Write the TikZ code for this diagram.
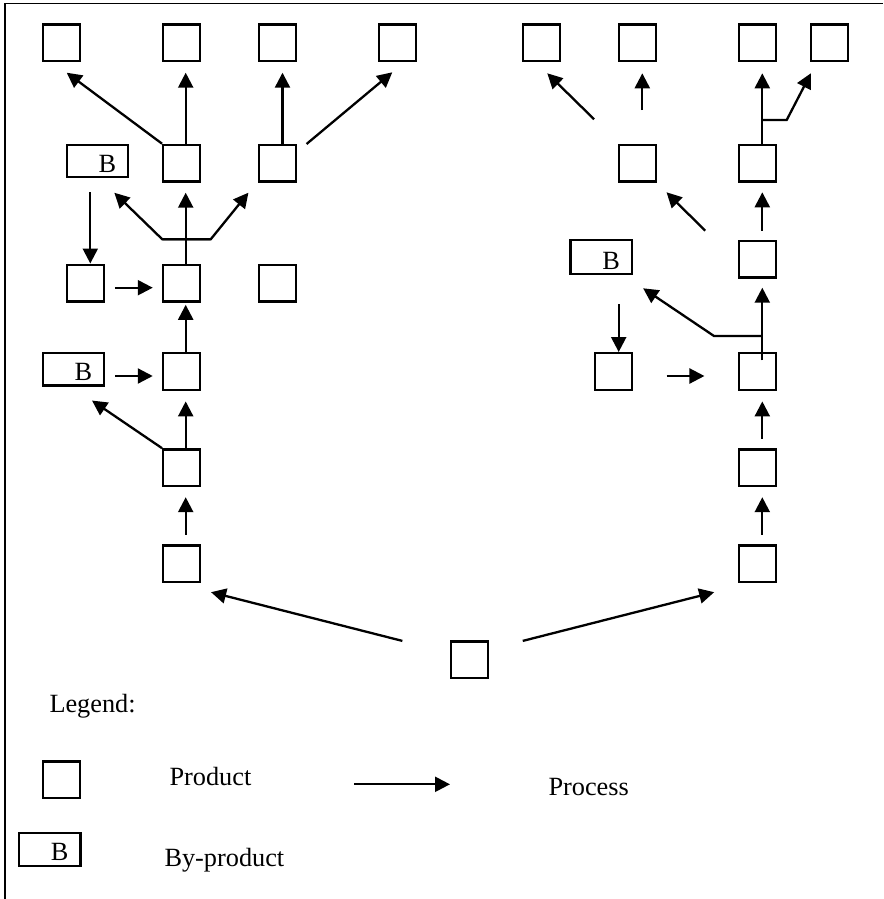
\documentclass[tikz,border=0pt]{standalone}
\usepackage{fontspec}
\setmainfont{Liberation Serif}
\usetikzlibrary{arrows.meta}
\begin{document}
\begin{tikzpicture}[x=1pt,y=-1pt,
  prod/.style={draw, line width=2.3pt, minimum width=37pt, minimum height=36.7pt, inner sep=0pt},
  bybox/.style={draw, line width=2.3pt, minimum width=61.4pt, minimum height=32.4pt, inner sep=0pt},
  arr/.style={line width=2.3pt, -{Triangle[length=15pt,width=15pt]}},
  lbl/.style={inner sep=0pt, font=\fontsize{26.3}{30}\selectfont},
  frame/.style={line width=1.8pt}
  ]
\useasboundingbox (0,0) rectangle (883,899);
\draw[frame] (4.7,899) -- (4.7,3.5) -- (883,3.5);

% ---- left tree ----
\node[prod] (a1) at (61.3,42.8) {};
\node[prod] (a2) at (181.7,42.8) {};
\node[prod] (a3) at (277.5,42.8) {};
\node[prod] (a4) at (397.3,42.8) {};
\node[bybox] (bl1) at (97.5,161) {};
\node[prod] (b2) at (181.7,163.2) {};
\node[prod] (b3) at (277.5,163.2) {};
\node[prod] (c1) at (85.5,283) {};
\node[prod] (c2) at (181.7,283) {};
\node[prod] (c3) at (277.5,283) {};
\node[bybox] (bl2) at (73.5,369.2) {};
\node[prod] (d) at (181.7,371.5) {};
\node[prod] (e) at (181.7,467.7) {};
\node[prod] (f) at (181.7,563.7) {};
\node[prod] (root) at (469.7,659.7) {};

% ---- right tree ----
\node[prod] (p1) at (541.3,42.8) {};
\node[prod] (p2) at (637.5,42.8) {};
\node[prod] (p3) at (757.5,42.8) {};
\node[prod] (p4) at (829.5,42.8) {};
\node[prod] (q2) at (637.5,163.2) {};
\node[prod] (q3) at (757.5,163.2) {};
\node[bybox, minimum height=33.7pt] (br) at (601.3,257) {};
\node[prod] (s3) at (757.5,259.2) {};
\node[prod] (u2) at (613.5,371.5) {};
\node[prod] (u3) at (757.5,371.5) {};
\node[prod] (v3) at (757.5,467.7) {};
\node[prod] (w3) at (757.5,563.7) {};

% ---- legend boxes ----
\node[prod] (lp) at (61.7,779.7) {};
\node[bybox] (lb) at (49.7,849.5) {};

% by-product letters
\foreach \n in {bl1,bl2,br,lb}
  \node[lbl, anchor=base east] (\n-t) at ([shift={(-13,-6)}]\n.south east) {B};

% ---- junctions ----
\coordinate (jl) at (162.3,239.3);
\coordinate (jr) at (210.7,239.3);
\coordinate (jq) at (762.3,120);
\coordinate (jq2) at (786.7,120);
\coordinate (ju) at (762.3,336);
\coordinate (ju2) at (714,336);

% ---- left processes ----
\draw[arr] (b2.north west) -- ([shift={(5.4,10.4)}]a1.south);
\draw[arr] ([shift={(4,0)}]b2.north) -- ([shift={(4,10.4)}]a2.south);
\draw[arr] ([shift={(5,0)}]b3.north) -- ([shift={(5,10.4)}]a3.south);
\draw[arr] ([shift={(9.4,0.3)}]b3.north east) -- ([shift={(-5,10)}]a4.south);
\draw[arr] ([shift={(-7.2,13.7)}]bl1.south) -- ([shift={(4.8,0)}]c1.north);
\draw[arr] ([shift={(4,0)}]c2.north) -- ([shift={(4,10)}]b2.south);
\draw[arr] (jr) -- (jl) -- ([shift={(-15,14.4)}]bl1.south east);
\draw[arr] (jl) -- (jr) -- ([shift={(-9.4,10)}]b3.south west);
\draw[arr] ([shift={(9.7,4.7)}]c1.east) -- ([shift={(-9.3,4.7)}]c2.west);
\draw[arr] ([shift={(4,0)}]d.north) -- ([shift={(4,2.3)}]c2.south);
\draw[arr] ([shift={(9.7,6.8)}]bl2.east) -- ([shift={(-9.3,4.5)}]d.west);
\draw[arr] ([shift={(4,0)}]e.north) -- ([shift={(4,10.4)}]d.south);
\draw[arr] (e.north west) -- ([shift={(18.5,14)}]bl2.south);
\draw[arr] ([shift={(4,-9.7)}]f.north) -- ([shift={(4,10)}]e.south);

% ---- from the root ----
\draw[arr] ([shift={(-47.7,0.7)}]root.north west) -- ([shift={(9.7,9)}]f.south east);
\draw[arr] ([shift={(33.4,0.7)}]root.north east) -- ([shift={(-23.7,9)}]w3.south west);

% ---- right processes ----
\draw[arr] ([shift={(-23.7,-24.4)}]q2.north west) -- ([shift={(6,11)}]p1.south);
\draw[arr] ([shift={(4.8,-33.7)}]q2.north) -- ([shift={(4.8,11)}]p2.south);
\draw[arr] ([shift={(4.8,0)}]q3.north) -- ([shift={(4.8,11)}]p3.south);
\draw[arr] (jq) -- (jq2) -- ([shift={(1,11)}]p4.south west);
\draw[arr] ([shift={(-32.7,-9)}]s3.north west) -- ([shift={(9.4,9.6)}]q2.south east);
\draw[arr] ([shift={(4.8,-9)}]s3.north) -- ([shift={(4.8,9.6)}]q3.south);
\draw[arr] ([shift={(4.8,8.3)}]u3.north) -- ([shift={(4.8,9)}]s3.south);
\draw[arr] (ju) -- (ju2) -- ([shift={(10,13.3)}]br.south east);
\draw[arr] ([shift={(17.4,29)}]br.south) -- ([shift={(5.2,0)}]u2.north);
\draw[arr] ([shift={(33.4,4.5)}]u2.east) -- ([shift={(-33.4,4.5)}]u3.west);
\draw[arr] ([shift={(4.8,-9.3)}]v3.north) -- ([shift={(4.8,10.4)}]u3.south);
\draw[arr] ([shift={(4.8,-9.7)}]w3.north) -- ([shift={(4.8,10)}]v3.south);

% ---- legend ----
\coordinate (la) at (354.3,784.3);
\coordinate (lz) at (450,784.3);
\draw[arr] (la) -- (lz);
\node[lbl, anchor=base west] (legend) at (49.3,712.7) {Legend:};
\node[lbl, anchor=base west] (tprod) at (169.3,785) {Product};
\node[lbl, anchor=base west] (tproc) at (548.3,795) {Process};
\node[lbl, anchor=base west] (tby) at (164.3,866.7) {By-product};
\end{tikzpicture}
\end{document}
